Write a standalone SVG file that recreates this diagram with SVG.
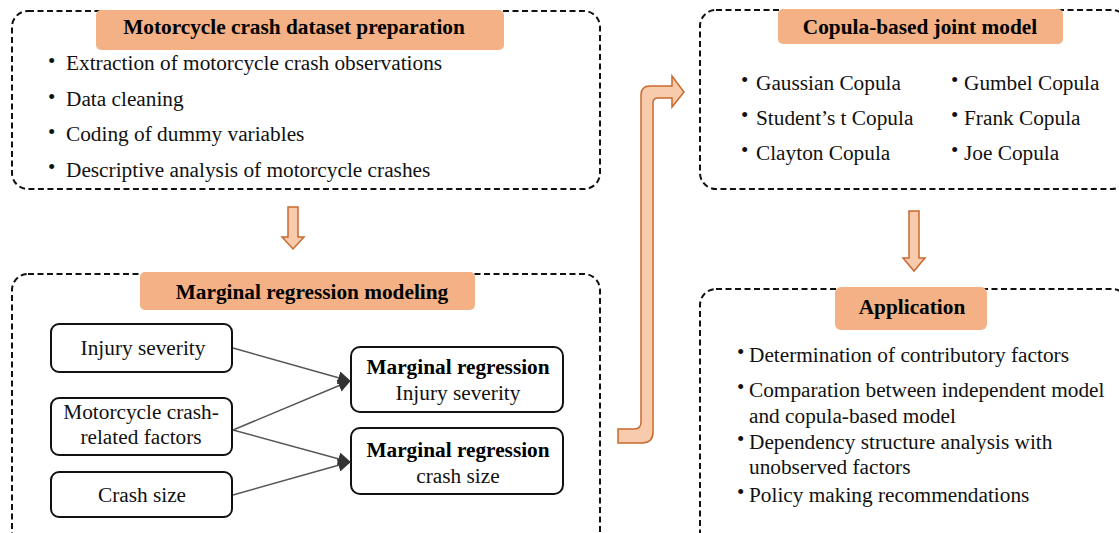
<svg xmlns="http://www.w3.org/2000/svg" width="1119" height="533" viewBox="0 0 1119 533">
<defs>
<marker id="ah" viewBox="0 0 12 12" refX="11" refY="6" markerWidth="13" markerHeight="13" markerUnits="userSpaceOnUse" orient="auto">
<path d="M0,0 L12,6 L0,12 z" fill="#333"/>
</marker>
</defs>
<style>
.dash{fill:none;stroke:#111;stroke-width:2;stroke-dasharray:6 3.5}
.ttl{fill:#F3B185}
.tt{font-family:"Liberation Serif",serif;font-weight:bold;font-size:21.3px;fill:#000;text-anchor:middle}
.t{font-family:"Liberation Serif",serif;font-size:21.3px;fill:#111}
.bu{font-family:"Liberation Serif",serif;font-size:21px;fill:#111}
.tc{font-family:"Liberation Serif",serif;font-size:21.3px;fill:#111;text-anchor:middle}
.tb{font-family:"Liberation Serif",serif;font-weight:bold;font-size:21.3px;fill:#000;text-anchor:middle}
.box{fill:#fff;stroke:#111;stroke-width:2}
.conn{stroke:#555;stroke-width:1.4;fill:none}
.arr{fill:#F8CBAD;stroke:#C8692E;stroke-width:1.5}
</style>

<g id="prep">
<rect class="dash" x="12" y="11" width="588" height="178" rx="16"/>
<rect class="ttl" x="96" y="10" width="408" height="40" rx="5"/>
<text class="tt" x="294" y="34">Motorcycle crash dataset preparation</text>
<text class="bu" x="48" y="68">•</text><text class="t" x="66" y="70">Extraction of motorcycle crash observations</text>
<text class="bu" x="48" y="104">•</text><text class="t" x="66" y="106">Data cleaning</text>
<text class="bu" x="48" y="139">•</text><text class="t" x="66" y="141">Coding of dummy variables</text>
<text class="bu" x="48" y="174">•</text><text class="t" x="66" y="177">Descriptive analysis of motorcycle crashes</text>
</g>

<g id="arrow1">
<path class="arr" d="M288,207 H298 V237 H304 L293,249 L282,237 H288 Z"/>
</g>

<g id="marginal">
<rect class="dash" x="12" y="274" width="588" height="280" rx="16"/>
<rect class="ttl" x="140" y="272" width="335" height="38" rx="5"/>
<text class="tt" x="312" y="299">Marginal regression modeling</text>
</g>

<g id="n-injury">
<rect class="box" x="51" y="324" width="181" height="48" rx="8"/>
<text class="tc" x="143" y="355">Injury severity</text>
</g>
<g id="n-factors">
<rect class="box" x="51" y="398" width="181" height="57" rx="8"/>
<text class="tc" x="141" y="419">Motorcycle crash-</text>
<text class="tc" x="141" y="444">related factors</text>
</g>
<g id="n-crash">
<rect class="box" x="51" y="472" width="181" height="45" rx="8"/>
<text class="tc" x="142" y="502">Crash size</text>
</g>
<g id="n-mr1">
<rect class="box" x="351" y="347" width="212" height="65" rx="9"/>
<text class="tb" x="458" y="374">Marginal regression</text>
<text class="tc" x="458" y="400">Injury severity</text>
</g>
<g id="n-mr2">
<rect class="box" x="351" y="428" width="212" height="66" rx="9"/>
<text class="tb" x="458" y="457">Marginal regression</text>
<text class="tc" x="458" y="483">crash size</text>
</g>

<g id="connectors">
<line class="conn" x1="233" y1="348" x2="350" y2="381" marker-end="url(#ah)"/>
<line class="conn" x1="233" y1="430" x2="350" y2="381" marker-end="url(#ah)"/>
<line class="conn" x1="233" y1="430" x2="350" y2="462" marker-end="url(#ah)"/>
<line class="conn" x1="233" y1="495" x2="350" y2="462" marker-end="url(#ah)"/>
</g>

<g id="bigarrow">
<path class="arr" d="M618,429 H634 Q641,429 641,422 V95 Q641,86 650,86 H672 V76 L684,92 L672,107 V98 H658 Q653,98 653,103 V432 Q653,443 642,443 H618 Z"/>
</g>

<g id="copula">
<rect class="dash" x="700" y="10" width="428" height="179" rx="16"/>
<rect class="ttl" x="778" y="9" width="285" height="35" rx="5"/>
<text class="tt" x="920" y="34">Copula-based joint model</text>
<text class="bu" x="741" y="87">•</text><text class="t" x="756" y="90">Gaussian Copula</text>
<text class="bu" x="741" y="122">•</text><text class="t" x="756" y="125">Student’s t Copula</text>
<text class="bu" x="741" y="157">•</text><text class="t" x="756" y="160">Clayton Copula</text>
<text class="bu" x="951" y="87">•</text><text class="t" x="964" y="90">Gumbel Copula</text>
<text class="bu" x="951" y="122">•</text><text class="t" x="964" y="125">Frank Copula</text>
<text class="bu" x="951" y="157">•</text><text class="t" x="964" y="160">Joe Copula</text>
</g>

<g id="arrow2">
<path class="arr" d="M909,211 H919 V258 H925 L914,271 L903,258 H909 Z"/>
</g>

<g id="application">
<rect class="dash" x="700" y="289" width="428" height="260" rx="16"/>
<rect class="ttl" x="835" y="287" width="152" height="43" rx="6"/>
<text class="tt" x="912" y="314">Application</text>
<text class="bu" x="737" y="359">•</text><text class="t" x="749" y="362">Determination of contributory factors</text>
<text class="bu" x="737" y="394">•</text><text class="t" x="749" y="397">Comparation between independent model</text>
<text class="t" x="749" y="423">and copula-based model</text>
<text class="bu" x="737" y="446">•</text><text class="t" x="749" y="449">Dependency structure analysis with</text>
<text class="t" x="749" y="474">unobserved factors</text>
<text class="bu" x="737" y="499">•</text><text class="t" x="749" y="502">Policy making recommendations</text>
</g>
</svg>
